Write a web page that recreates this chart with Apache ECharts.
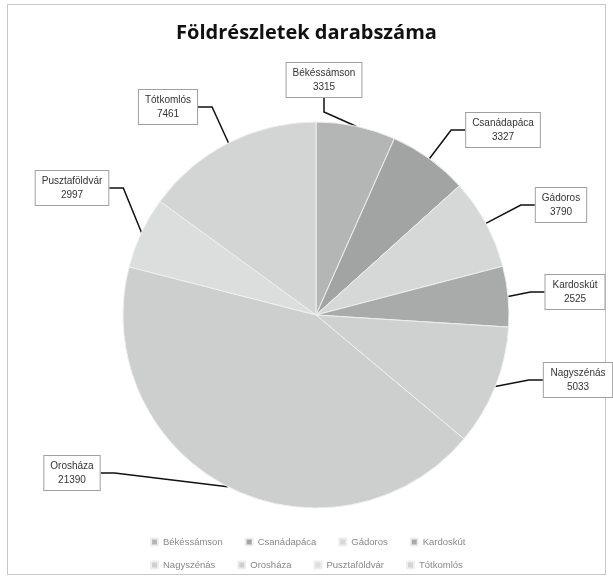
<!DOCTYPE html>
<html><head><meta charset="utf-8">
<script src="https://cdn.jsdelivr.net/npm/echarts@6/dist/echarts.min.js"></script>
<style>
html,body{margin:0;padding:0;background:#fff;}
#frame{position:absolute;left:7px;top:4px;width:597px;height:569px;border:1px solid #c8c8c8;}
#main{position:absolute;left:0;top:0;width:613px;height:578px;}
</style></head>
<body>
<div id="frame"></div>
<div id="main"></div>
<script>
const titleText = 'Földrészletek darabszáma';
const categories = ['Békéssámson','Csanádapáca','Gádoros','Kardoskút','Nagyszénás','Orosháza','Pusztaföldvár','Tótkomlós'];
const values = [3315, 3327, 3790, 2525, 5033, 21390, 2997, 7461];
const colors = ['#b4b6b6','#a2a4a4','#d6d8d8','#a9abab','#cfd1d1','#cdcfcf','#dcdede','#d3d5d5'];
// label box centres (layout only)
const labelPos = [[324,80],[503,130],[561,205],[575,292],[578,380],[72,473],[72,188],[168,107]];

const legendBase = {
  itemWidth:7, itemHeight:7, itemGap:22, icon:'rect',
  textStyle:{fontFamily:'Liberation Sans',fontSize:9.5,color:'#888'}
};

const chart = echarts.init(document.getElementById('main'));
chart.setOption({
  animation:false,
  title:{text:titleText,left:'center',top:18,
    textStyle:{fontFamily:'Open Sans',fontWeight:'bold',fontSize:20,color:'#111'}},
  legend:[
    Object.assign({left:145, top:532, data:categories.slice(0,4)}, legendBase),
    Object.assign({left:145, top:555, data:categories.slice(4)}, legendBase)
  ],
  color:colors,
  series:[{
    type:'pie',
    center:[316,315],
    radius:193,
    startAngle:90,
    clockwise:true,
    itemStyle:{borderColor:'#eeeeee',borderWidth:1},
    label:{
      show:true,
      formatter:p=>'{t|'+p.name+'}\n{t|'+p.value+'}',
      rich:{t:{fontFamily:'Liberation Sans',fontSize:10,lineHeight:14,align:'center',color:'#333'}},
      backgroundColor:'#fff',
      borderColor:'#a0a0a0',
      borderWidth:1,
      padding:[3,6]
    },
    labelLine:{show:true,length:22,length2:14,lineStyle:{color:'#111',width:1.5}},
    labelLayout:function(p){
      const pos = labelPos[p.dataIndex];
      return {x:pos[0], y:pos[1], align:'center', verticalAlign:'middle'};
    },
    data:categories.map((c,i)=>({name:c,value:values[i]}))
  }]
});
</script>
</body></html>
